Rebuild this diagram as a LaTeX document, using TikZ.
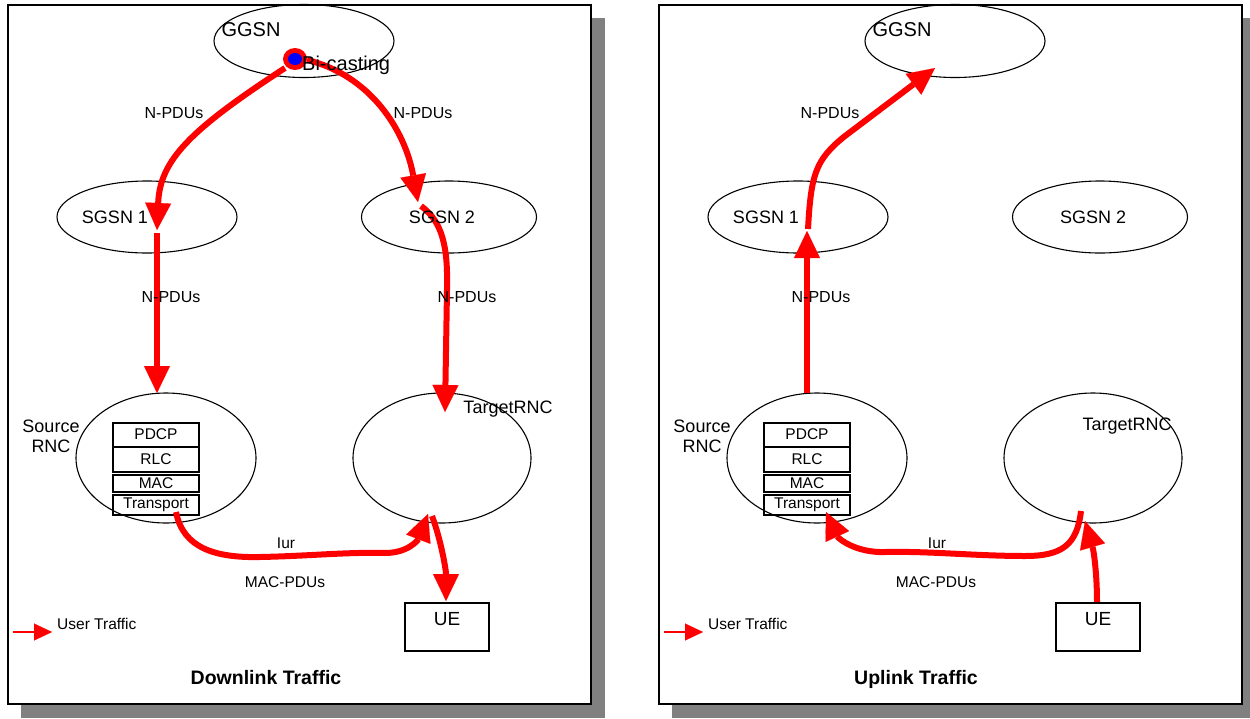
\documentclass[tikz,border=0pt]{standalone}
\usepackage{fontspec}
\setmainfont{Liberation Sans}
\usetikzlibrary{arrows.meta,shapes.geometric}
\definecolor{shadowgray}{RGB}{128,128,128}
\definecolor{flowred}{RGB}{255,0,0}
\definecolor{dotblue}{RGB}{0,0,255}

\newcommand\panelshapes[2]{%
\begin{scope}[xshift=#2pt]
\fill[shadowgray] (21,18) rectangle (605,718);
\draw[frame] (8,5) rectangle (591,704);
\node[ell,minimum width=180pt,minimum height=73pt] (#1ggsn) at (304,41) {};
\node[ell,minimum width=180pt,minimum height=72pt] (#1sgsnA) at (147,217) {};
\node[ell,minimum width=175pt,minimum height=72pt] (#1sgsnB) at (449,217) {};
\node[ell,minimum width=180pt,minimum height=130pt] (#1src) at (166,458) {};
\node[ell,minimum width=178pt,minimum height=130pt] (#1tgt) at (442,458) {};
\node[stackbox,minimum height=24pt] (#1pdcp) at (156,435) {};
\node[stackbox,minimum height=25pt] (#1rlc) at (156,459.5) {};
\node[stackbox,minimum height=17pt] (#1mac) at (156,483.5) {};
\node[stackbox,minimum height=20pt] (#1trans) at (156,505) {};
\node[uebox] (#1ue) at (447,627) {};
\coordinate (#1legA) at (13,632);
\coordinate (#1legB) at (52,632);
\draw[legendarrow] (#1legA) -- (#1legB);
\end{scope}}

\newcommand\panellabels[4]{%
\begin{scope}[xshift=#2pt]
\node[txt,fA] (#1ggsnT) at (251,36) {GGSN};
\node[txt,fC] (#1sgsnAT) at (115,223.5) {SGSN 1};
\node[txt,fC] (#1sgsnBT) at (442,223) {SGSN 2};
\node[txt,fC] (#1srcT) at (51,432) {Source};
\node[txt,fC] (#1rncT) at (51,452) {RNC};
\node[txt,fC] (#1tgtT) at (#4,#3) {TargetRNC};
\node[txt,fE] (#1pdcpT) at (156,439.5) {PDCP};
\node[txt,fE] (#1rlcT) at (156,464) {RLC};
\node[txt,fE] (#1macT) at (156,488) {MAC};
\node[txt,fE] (#1transT) at (156,508.5) {Transport};
\node[txt,fE] (#1iurT) at (286,548) {Iur};
\node[txt,fE] (#1macpT) at (285,587) {MAC-PDUs};
\node[txt,fB] (#1ueT) at (447,625) {UE};
\node[txt,fE,anchor=base west] (#1legT) at (57,629) {User Traffic};
\end{scope}}

\begin{document}
\begin{tikzpicture}[x=1pt,y=-1pt,
  frame/.style={draw=black,line width=1.5pt,fill=white},
  ell/.style={ellipse,draw=black,line width=1.1pt,inner sep=0pt},
  stackbox/.style={rectangle,draw=black,line width=1.1pt,inner sep=0pt,minimum width=86pt},
  uebox/.style={rectangle,draw=black,line width=1.1pt,inner sep=0pt,minimum width=84pt,minimum height=48pt},
  flow/.style={draw=flowred,line width=6pt,-{Triangle[length=27pt,width=26pt,line width=0.1pt]}},
  legendarrow/.style={draw=flowred,line width=1.6pt,-{Triangle[length=18pt,width=17pt,line width=0.1pt]}},
  txt/.style={inner sep=0pt,anchor=base},
  fA/.style={font=\fontsize{20pt}{22pt}\selectfont},
  fB/.style={font=\fontsize{19pt}{21pt}\selectfont},
  fC/.style={font=\fontsize{18pt}{20pt}\selectfont},
  fD/.style={font=\fontsize{16pt}{18pt}\selectfont},
  fE/.style={font=\fontsize{15.5pt}{17pt}\selectfont},
  fT/.style={font=\fontsize{19.5pt}{21pt}\selectfont\bfseries},
]
\useasboundingbox (0,0) rectangle (1250,718);

\panelshapes{L}{0}
\panelshapes{R}{651}

% downlink arrows
\coordinate (dA0) at (285,68); \coordinate (dA1) at (157,230);
\draw[flow] (dA0) .. controls (190,130) and (160,160) .. (dA1);
\coordinate (dB0) at (307,60); \coordinate (dB1) at (418,202);
\draw[flow] (dB0) .. controls (370,75) and (405,130) .. (dB1);
\coordinate (dC0) at (157,233); \coordinate (dC1) at (157,393);
\draw[flow] (dC0) -- (dC1);
\coordinate (dD0) at (421,206); \coordinate (dD1) at (445,412);
\draw[flow] (dD0) .. controls (443,222) and (448,248) .. (447,290) -- (dD1);
\coordinate (dE0) at (176,512); \coordinate (dE1) at (428,514);
\draw[flow] (dE0) .. controls (183,548) and (215,558) .. (260,557) .. controls (310,556) and (345,552) .. (385,553) .. controls (408,553) and (418,540) .. (dE1);
\coordinate (dF0) at (432,516); \coordinate (dF1) at (446,601);
\draw[flow] (dF0) .. controls (441,540) and (446,570) .. (dF1);

% uplink arrows
\coordinate (uA0) at (808,229); \coordinate (uA1) at (935,68);
\draw[flow] (uA0) .. controls (811,175) and (815,160) .. (845,136) -- (uA1);
\coordinate (uB0) at (807,393); \coordinate (uB1) at (807,231);
\draw[flow] (uB0) -- (uB1);
\coordinate (uC0) at (1097,602); \coordinate (uC1) at (1085,521);
\draw[flow] (uC0) .. controls (1097,575) and (1094,552) .. (uC1);
\coordinate (uD0) at (1081,511); \coordinate (uD1) at (826,512);
\draw[flow] (uD0) .. controls (1077,545) and (1062,556) .. (1025,556) .. controls (975,556) and (930,551) .. (885,552) .. controls (855,553) and (838,538) .. (uD1);

% bi-casting point
\node[ellipse,fill=flowred,inner sep=0pt,minimum width=24pt,minimum height=22pt] (bcRing) at (295,59) {};
\node[ellipse,fill=dotblue,inner sep=0pt,minimum width=14pt,minimum height=12pt] (bcDot) at (295,59) {};

\panellabels{L}{0}{413.5}{508}
\panellabels{R}{651}{430.5}{476}

\node[txt,fA,anchor=base west] (bcT) at (302,70) {Bi-casting};
\node[txt,fD] (npTL) at (174,118) {N-PDUs};
\node[txt,fD] (npTR) at (423,118) {N-PDUs};
\node[txt,fD] (npML) at (171,302) {N-PDUs};
\node[txt,fD] (npMR) at (467,302) {N-PDUs};
\node[txt,fD] (npRT) at (830,118) {N-PDUs};
\node[txt,fD] (npRM) at (821,302) {N-PDUs};
\node[txt,fT] (downT) at (266,684) {Downlink Traffic};
\node[txt,fT] (upT) at (916,684) {Uplink Traffic};
\end{tikzpicture}
\end{document}
